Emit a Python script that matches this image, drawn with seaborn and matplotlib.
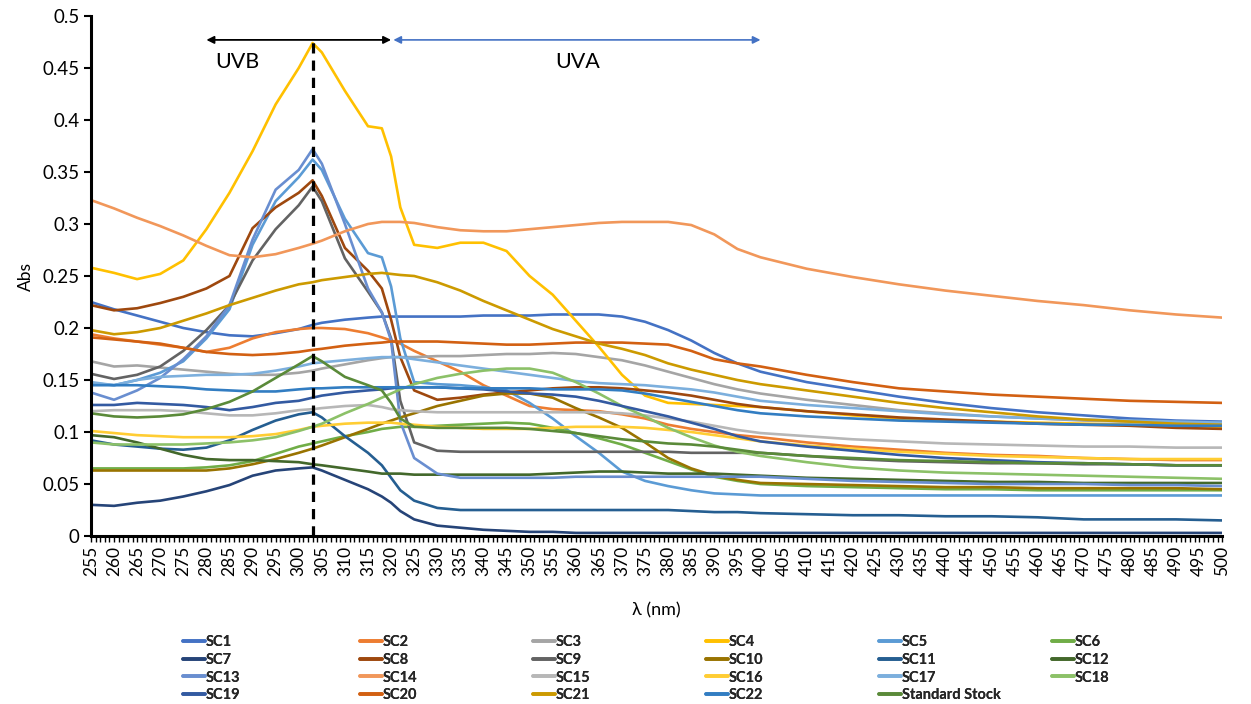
import matplotlib
matplotlib.use("Agg")
import matplotlib.pyplot as plt
from matplotlib.lines import Line2D
from matplotlib.ticker import MultipleLocator, FuncFormatter
import seaborn as sns
import pandas as pd

wl = [255, 260, 265, 270, 275, 280, 285, 290, 295, 300, 303, 305, 310, 315, 318, 320, 322,
      325, 330, 335, 340, 345, 350, 355, 360, 365, 370, 375, 380, 385, 390, 395, 400,
      410, 420, 430, 440, 450, 460, 470, 480, 490, 500]

sc1 = [.225, .218, .212, .206, .200, .196, .193, .192, .195, .199, .203, .205, .208, .210, .211, .211, .211,
       .211, .211, .211, .212, .212, .212, .213, .213, .213, .211, .206, .198, .188, .176, .166, .158,
       .148, .141, .134, .128, .123, .119, .116, .113, .111, .110]
sc2 = [.194, .190, .187, .184, .181, .177, .181, .190, .196, .199, .200, .200, .199, .195, .191, .188, .185,
       .178, .168, .158, .145, .135, .125, .122, .121, .120, .117, .113, .107, .103, .100, .097, .095,
       .090, .086, .083, .080, .078, .077, .075, .074, .073, .073]
sc3 = [.168, .163, .164, .162, .160, .158, .156, .155, .155, .157, .159, .161, .165, .169, .171, .172, .172,
       .172, .173, .173, .174, .175, .175, .176, .175, .172, .169, .164, .158, .152, .146, .141, .137,
       .131, .126, .121, .118, .115, .113, .111, .110, .108, .107]
sc4 = [.258, .253, .247, .252, .265, .295, .330, .370, .415, .450, .474, .465, .428, .394, .392, .365, .316,
       .280, .277, .282, .282, .274, .250, .232, .207, .182, .155, .135, .128, .127, .126, .125, .124,
       .120, .116, .113, .111, .110, .109, .108, .107, .106, .105]
sc5 = [.147, .145, .150, .157, .168, .190, .218, .280, .322, .345, .362, .352, .305, .272, .268, .240, .190,
       .148, .146, .145, .143, .140, .128, .113, .096, .080, .062, .053, .048, .044, .041, .040, .039,
       .039, .039, .039, .039, .039, .039, .039, .039, .039, .039]
sc6 = [.065, .065, .065, .065, .065, .066, .068, .072, .079, .086, .089, .091, .096, .100, .103, .104, .105,
       .105, .106, .107, .108, .109, .108, .104, .099, .094, .088, .080, .072, .064, .057, .053, .050,
       .048, .047, .046, .045, .045, .044, .044, .044, .044, .044]
sc7 = [.030, .029, .032, .034, .038, .043, .049, .058, .063, .065, .066, .063, .054, .045, .038, .032, .024,
       .016, .010, .008, .006, .005, .004, .004, .003, .003, .003, .003, .003, .003, .003, .003, .003,
       .003, .003, .003, .003, .003, .003, .003, .003, .003, .003]
sc8 = [.222, .217, .219, .224, .230, .238, .250, .296, .316, .330, .342, .327, .277, .255, .238, .208, .172,
       .140, .131, .133, .136, .138, .140, .142, .143, .143, .142, .140, .138, .135, .131, .127, .124,
       .120, .117, .114, .112, .110, .108, .107, .106, .104, .103]
sc9 = [.156, .151, .155, .163, .178, .198, .222, .265, .295, .318, .336, .322, .267, .235, .215, .190, .130,
       .090, .082, .081, .081, .081, .081, .081, .081, .081, .081, .081, .081, .080, .080, .080, .080,
       .077, .074, .072, .071, .070, .070, .069, .069, .068, .068]
sc10 = [.063, .063, .063, .063, .063, .063, .065, .069, .074, .080, .084, .087, .095, .103, .108, .111, .114,
        .118, .125, .130, .135, .137, .137, .133, .123, .114, .104, .090, .075, .065, .058, .054, .051,
        .050, .049, .048, .047, .047, .046, .046, .046, .046, .045]
sc11 = [.092, .088, .086, .084, .083, .085, .092, .102, .111, .117, .119, .114, .096, .080, .068, .056, .044,
        .034, .027, .025, .025, .025, .025, .025, .025, .025, .025, .025, .025, .024, .023, .023, .022,
        .021, .020, .020, .019, .019, .018, .016, .016, .016, .015]
sc12 = [.097, .095, .090, .084, .078, .074, .073, .073, .072, .071, .069, .068, .065, .062, .060, .060, .060,
        .059, .059, .059, .059, .059, .059, .060, .061, .062, .062, .061, .060, .060, .060, .059, .058,
        .056, .055, .054, .053, .052, .052, .051, .051, .051, .051]
sc13 = [.138, .131, .140, .152, .170, .192, .222, .285, .333, .352, .372, .358, .300, .238, .215, .188, .110,
        .075, .060, .056, .056, .056, .056, .056, .057, .057, .057, .057, .057, .057, .057, .057, .057,
        .055, .053, .052, .051, .050, .050, .050, .049, .049, .048]
sc14 = [.323, .315, .306, .298, .289, .279, .270, .268, .271, .277, .281, .284, .293, .300, .302, .302, .302,
        .301, .297, .294, .293, .293, .295, .297, .299, .301, .302, .302, .302, .299, .290, .276, .268,
        .257, .249, .242, .236, .231, .226, .222, .217, .213, .210]
sc15 = [.120, .121, .121, .121, .120, .118, .116, .116, .118, .121, .122, .123, .125, .126, .124, .122, .121,
        .120, .119, .119, .119, .119, .119, .119, .119, .119, .118, .116, .113, .110, .106, .102, .099,
        .096, .093, .091, .089, .088, .087, .086, .086, .085, .085]
sc16 = [.101, .099, .097, .096, .095, .095, .095, .096, .098, .102, .105, .106, .108, .109, .109, .109, .108,
        .107, .105, .104, .103, .103, .103, .104, .105, .105, .105, .104, .102, .100, .097, .094, .091,
        .087, .084, .081, .079, .077, .076, .075, .074, .074, .074]
sc17 = [.148, .145, .150, .153, .154, .155, .155, .156, .159, .163, .166, .167, .169, .171, .172, .172, .172,
        .170, .167, .164, .161, .158, .155, .152, .149, .147, .146, .145, .143, .141, .138, .134, .130,
        .126, .123, .120, .117, .115, .113, .112, .111, .110, .109]
sc18 = [.090, .088, .088, .088, .088, .089, .090, .092, .095, .101, .105, .108, .118, .127, .133, .137, .141,
        .146, .152, .156, .159, .161, .161, .157, .148, .137, .125, .115, .104, .095, .087, .081, .077,
        .071, .066, .063, .061, .060, .059, .058, .057, .056, .055]
sc19 = [.126, .126, .128, .127, .126, .124, .121, .124, .128, .130, .133, .135, .138, .140, .141, .142, .143,
        .143, .143, .142, .141, .139, .137, .136, .134, .130, .125, .120, .115, .109, .103, .096, .091,
        .086, .082, .078, .075, .073, .071, .070, .069, .068, .068]
sc20 = [.191, .189, .187, .185, .181, .177, .175, .174, .175, .177, .179, .180, .183, .185, .186, .187, .187,
        .187, .187, .186, .185, .184, .184, .185, .186, .186, .186, .185, .184, .178, .170, .166, .163,
        .155, .148, .142, .139, .136, .134, .132, .130, .129, .128]
sc21 = [.198, .194, .196, .200, .207, .214, .222, .229, .236, .242, .244, .246, .249, .252, .253, .252, .251,
        .250, .244, .236, .226, .217, .208, .199, .192, .185, .180, .174, .166, .160, .155, .150, .146,
        .140, .134, .128, .123, .119, .115, .112, .110, .108, .107]
sc22 = [.145, .145, .145, .144, .143, .141, .140, .139, .139, .141, .142, .142, .143, .143, .143, .143, .143,
        .143, .143, .142, .142, .142, .142, .141, .141, .141, .140, .137, .133, .129, .125, .121, .118,
        .115, .113, .111, .110, .109, .108, .107, .107, .106, .106]
std_stock = [.118, .115, .114, .115, .117, .122, .129, .139, .152, .165, .173, .168, .153, .145, .140, .128, .113,
             .105, .104, .104, .104, .104, .103, .101, .099, .096, .093, .091, .089, .088, .086, .083, .080,
             .077, .075, .073, .072, .071, .070, .070, .069, .068, .068]

names = ["SC1", "SC2", "SC3", "SC4", "SC5", "SC6", "SC7", "SC8", "SC9", "SC10", "SC11", "SC12",
         "SC13", "SC14", "SC15", "SC16", "SC17", "SC18", "SC19", "SC20", "SC21", "SC22", "Standard Stock"]
series = [sc1, sc2, sc3, sc4, sc5, sc6, sc7, sc8, sc9, sc10, sc11, sc12,
          sc13, sc14, sc15, sc16, sc17, sc18, sc19, sc20, sc21, sc22, std_stock]

# excel office palette
colors = ["#4472C4", "#ED7D31", "#A5A5A5", "#FFC000", "#5B9BD5", "#70AD47",
          "#264478", "#9E480E", "#636363", "#997300", "#255E91", "#43682B",
          "#698ED0", "#F1975A", "#B7B7B7", "#FFCD33", "#7CAFDD", "#8CC168",
          "#335AA1", "#D26012", "#CC9A00", "#327DC2", "#5A8A39"]

peak_wl = 303
peak_top = 0.475
uvb = (280, 320)
uva = (320.5, 400)

df = pd.concat([pd.DataFrame({"wl": wl, "abs": s, "sample": n}) for n, s in zip(names, series)])

sns.set_theme(style="white")
plt.rcParams["font.family"] = ["Lato", "DejaVu Sans"]

fig = plt.figure(figsize=(12.51, 7.04), dpi=100)
ax = fig.add_axes([0.0727, 0.2386, 0.9043, 0.7387])

sns.lineplot(data=df, x="wl", y="abs", hue="sample", hue_order=names,
             palette=dict(zip(names, colors)), linewidth=1.9, legend=False, ax=ax)

ax.set_xlim(255, 500)
ax.set_ylim(0, 0.5)

# marker for the absorbance peak and UV bands
ax.axvline(peak_wl, ymin=0, ymax=peak_top / 0.5, color="black", lw=2.3, dashes=(3.2, 2.2), zorder=5)
ax.annotate("", xy=(uvb[1], 0.477), xytext=(uvb[0], 0.477),
            arrowprops=dict(arrowstyle="<|-|>", color="black", lw=1.3, mutation_scale=11,
                            shrinkA=0, shrinkB=0))
ax.annotate("", xy=(uva[1], 0.477), xytext=(uva[0], 0.477),
            arrowprops=dict(arrowstyle="<|-|>", color="#4472C4", lw=1.2, mutation_scale=11,
                            shrinkA=0, shrinkB=0))
ax.text(286.8, 0.456, "UVB", ha="center", va="center", fontsize=15.5, color="black")
ax.text(360.5, 0.456, "UVA", ha="center", va="center", fontsize=15.5, color="black")

# axes styling
sns.despine(ax=ax)
for side in ["left", "bottom"]:
    ax.spines[side].set_linewidth(2.2)
    ax.spines[side].set_color("black")

ax.xaxis.set_major_locator(MultipleLocator(5))
ax.xaxis.set_minor_locator(MultipleLocator(1))
ax.yaxis.set_major_locator(MultipleLocator(0.05))
ax.yaxis.set_major_formatter(FuncFormatter(lambda v, p: f"{v:g}"))
ax.tick_params(axis="x", which="both", bottom=True, direction="out", length=4, width=1,
               color="black", labelsize=12.5, labelrotation=90, pad=3)
ax.tick_params(axis="y", left=True, direction="out", length=5, width=1.5, color="black",
               labelsize=13.5, pad=3)
for lab in ax.get_xticklabels() + ax.get_yticklabels():
    lab.set_color("black")

ax.set_xlabel("λ (nm)", fontsize=13, color="black", labelpad=19)
ax.set_ylabel("Abs", fontsize=12.5, color="black", labelpad=6)
ax.grid(False)

# legend: 6 columns, filled row by row
col_x = [183, 360, 533, 706, 879, 1052]
for c in range(6):
    idx = list(range(c, len(names), 6))
    handles = [Line2D([0], [0], color=colors[i], lw=2.6) for i in idx]
    leg = fig.legend(handles, [names[i] for i in idx], loc="upper left",
                     bbox_to_anchor=(col_x[c] / 1251, 1 - 635 / 704),
                     frameon=False, handlelength=1.5, handletextpad=0.05,
                     labelspacing=0.26, borderaxespad=0, borderpad=0,
                     prop={"family": ["Lato", "DejaVu Sans"], "weight": "bold", "size": 10.5})
    fig.add_artist(leg)

fig.savefig("out.png", dpi=100)
